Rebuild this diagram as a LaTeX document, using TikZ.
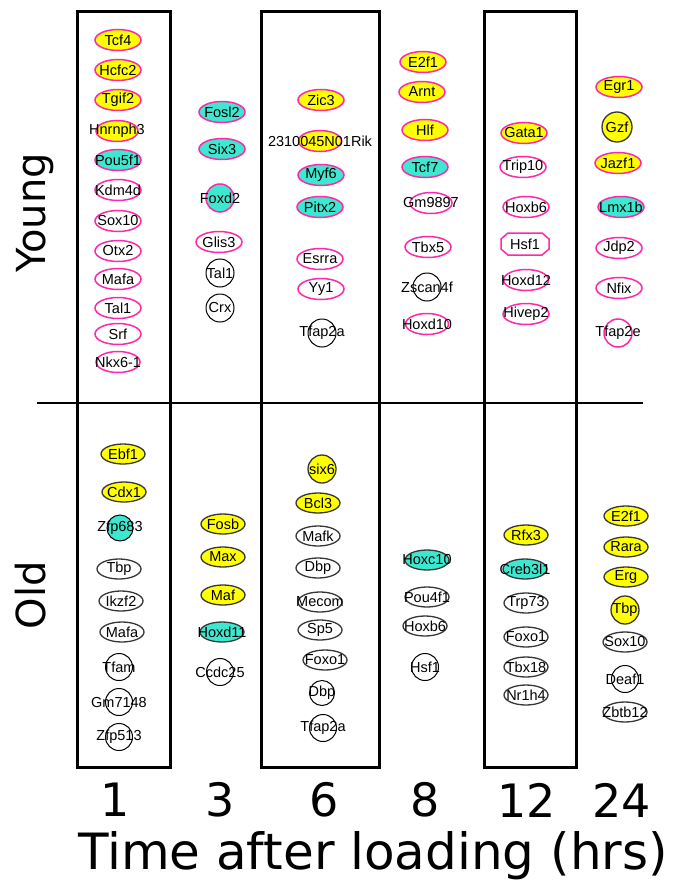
\documentclass[tikz,border=0pt]{standalone}
\usepackage{fontspec}
\setmainfont{Liberation Sans}
\newfontfamily\bigfont{DejaVu Sans}
\usetikzlibrary{shapes.geometric}
\definecolor{pk}{RGB}{255,40,170}
\definecolor{yl}{RGB}{255,255,0}
\definecolor{cy}{RGB}{60,232,208}
\definecolor{gb}{RGB}{55,55,55}
\tikzset{
  base/.style={inner sep=0pt, outer sep=0pt},
  ell/.style={base, ellipse, minimum width=46pt, minimum height=21pt},
  oell/.style={base, ellipse, minimum width=44pt, minimum height=20pt},
  circ/.style={base, circle, minimum size=28pt},
  ocirc/.style={base, circle, minimum size=27pt},
  pkline/.style={draw=pk, line width=1.5pt},
  gbline/.style={draw=gb, line width=1.3pt},
  yp/.style={ell, pkline, fill=yl},
  cp/.style={ell, pkline, fill=cy},
  wp/.style={ell, pkline, fill=white},
  cpc/.style={circ, pkline, fill=cy},
  wpc/.style={circ, pkline, fill=white},
  wbc/.style={circ, draw=black, line width=1pt, fill=white},
  oct/.style={base, rectangle, minimum width=48pt, minimum height=22pt},
  ygc/.style={ocirc, minimum size=30pt, gbline, fill=yl},
  yg/.style={oell, gbline, fill=yl},
  cg/.style={oell, gbline, fill=cy},
  wg/.style={oell, gbline, fill=white},
  wgc/.style={ocirc, draw=black, line width=1pt, fill=white},
  cgc/.style={ocirc, minimum size=26pt, draw=black, line width=1pt, fill=cy},
  lbl/.style={base, font=\fontsize{14.5}{16}\selectfont},
  frame/.style={draw=black, line width=3pt},
  big/.style={font=\bigfont\fontsize{40}{44}\selectfont},
  num/.style={font=\bigfont\fontsize{46}{50}\selectfont},
  axis/.style={font=\bigfont\fontsize{50}{54}\selectfont},
}
\newcommand\tf[5]{\node[#4] (#1) at (#2,#3) {}; \node[lbl] (#1t) at (#1) {#5};}
\begin{document}
\begin{tikzpicture}[x=1pt,y=-1pt]
\useasboundingbox[fill=white] (0,0) rectangle (673,880);
% frames
\draw[frame] (77,12) rectangle (170,767);
\draw[frame] (261,12) rectangle (379,767);
\draw[frame] (484,12) rectangle (576,767);
\draw[line width=1.5pt] (37,403) -- (643,403);
% Young, 1 h
\tf{ya1}{118}{40}{yp}{Tcf4}
\tf{ya2}{118}{70}{yp}{Hcfc2}
\tf{ya3}{118}{100}{yp}{Tgif2}
\tf{ya4}{117}{131}{yp,minimum width=42pt}{Hnrnph3}
\tf{ya5}{118}{160}{cp}{Pou5f1}
\tf{ya6}{118}{190}{wp}{Kdm4d}
\tf{ya7}{118}{221}{wp}{Sox10}
\tf{ya8}{118}{251}{wp}{Otx2}
\tf{ya9}{118}{279}{wp}{Mafa}
\tf{ya10}{118}{308}{wp}{Tal1}
\tf{ya11}{118}{334}{wp}{Srf}
\tf{ya12}{118}{362}{wp,minimum width=44pt}{Nkx6-1}
% Young, 3 h
\tf{yb1}{222}{112}{cp}{Fosl2}
\tf{yb2}{222}{149}{cp}{Six3}
\tf{yb3}{220}{198}{cpc}{Foxd2}
\tf{yb4}{219}{242}{wp}{Glis3}
\tf{yb5}{220}{273}{wbc}{Tal1}
\tf{yb6}{220}{308}{wbc}{Crx}
% Young, 6 h
\tf{yc1}{321}{100}{yp}{Zic3}
\tf{yc2}{320}{141}{yp,minimum width=43pt}{2310045N01Rik}
\tf{yc3}{321}{175}{cp}{Myf6}
\tf{yc4}{320}{207}{cp}{Pitx2}
\tf{yc5}{320}{259}{wp}{Esrra}
\tf{yc6}{321}{289}{wp}{Yy1}
\tf{yc7}{322}{333}{wbc}{Tfap2a}
% Young, 8 h
\tf{yd1}{423}{62}{yp}{E2f1}
\tf{yd2}{422}{92}{yp}{Arnt}
\tf{yd3}{425}{130}{yp}{Hlf}
\tf{yd4}{425}{167}{cp}{Tcf7}
\tf{yd5}{431}{203}{wp,minimum width=42pt}{Gm9897}
\tf{yd6}{428}{247}{wp}{Tbx5}
\tf{yd7}{427}{287}{wbc}{Zscan4f}
\tf{yd8}{427}{324}{wp,minimum width=43pt}{Hoxd10}
% Young, 12 h
\tf{ye1}{524}{133}{yp}{Gata1}
\tf{ye2}{523}{167}{wp}{Trip10}
\tf{ye3}{526}{207}{wp}{Hoxb6}
\node[oct] (ye4) at (525,244) {};
\draw[pkline, fill=white] ([xshift=7pt]ye4.north west) -- ([xshift=-7pt]ye4.north east)
  -- ([yshift=-6pt]ye4.north east) -- ([yshift=6pt]ye4.south east)
  -- ([xshift=-7pt]ye4.south east) -- ([xshift=7pt]ye4.south west)
  -- ([yshift=6pt]ye4.south west) -- ([yshift=-6pt]ye4.north west) -- cycle;
\node[lbl] (ye4t) at (ye4) {Hsf1};
\tf{ye5}{526}{280}{wp,minimum width=45pt}{Hoxd12}
\tf{ye6}{526}{314}{wp}{Hivep2}
% Young, 24 h
\tf{yf1}{619}{87}{yp}{Egr1}
\tf{yf2}{617}{127}{ygc}{Gzf}
\tf{yf3}{618}{163}{yp}{Jazf1}
\tf{yf4}{621}{207}{cp}{Lmx1b}
\tf{yf5}{619}{248}{wp}{Jdp2}
\tf{yf6}{619}{288}{wp}{Nfix}
\tf{yf7}{618}{333}{wpc}{Tfap2e}
% Old, 1 h
\tf{oa1}{123}{454}{yg}{Ebf1}
\tf{oa2}{124}{492}{yg}{Cdx1}
\tf{oa3}{120}{528}{cgc}{Zfp683}
\tf{oa4}{119}{569}{wg}{Tbp}
\tf{oa5}{121}{601}{wg}{Ikzf2}
\tf{oa6}{122}{632}{wg}{Mafa}
\tf{oa7}{119}{667}{wgc}{Tfam}
\tf{oa8}{119}{702}{wgc}{Gm7148}
\tf{oa9}{119}{737}{wgc}{Zfp513}
% Old, 3 h
\tf{ob1}{223}{524}{yg}{Fosb}
\tf{ob2}{223}{557}{yg}{Max}
\tf{ob3}{223}{595}{yg}{Maf}
\tf{ob4}{222}{632}{cg}{Hoxd11}
\tf{ob5}{220}{672}{wgc}{Ccdc25}
% Old, 6 h
\tf{oc1}{322}{469}{ygc,minimum size=28pt}{six6}
\tf{oc2}{318}{503}{yg}{Bcl3}
\tf{oc3}{318}{536}{wg}{Mafk}
\tf{oc4}{318}{568}{wg}{Dbp}
\tf{oc5}{320}{602}{wg}{Mecom}
\tf{oc6}{320}{630}{wg}{Sp5}
\tf{oc7}{325}{660}{wg}{Foxo1}
\tf{oc8}{322}{693}{wgc,minimum size=25pt}{Dbp}
\tf{oc9}{323}{728}{wgc}{Tfap2a}
% Old, 8 h
\tf{od1}{427}{560}{cg}{Hoxc10}
\tf{od2}{427}{597}{wg}{Pou4f1}
\tf{od3}{425}{626}{wg}{Hoxb6}
\tf{od4}{425}{667}{wgc}{Hsf1}
% Old, 12 h
\tf{oe1}{526}{535}{yg}{Rfx3}
\tf{oe2}{525}{569}{cg}{Creb3l1}
\tf{oe3}{526}{603}{wg}{Trp73}
\tf{oe4}{526}{637}{wg}{Foxo1}
\tf{oe5}{526}{667}{wg}{Tbx18}
\tf{oe6}{526}{695}{wg}{Nr1h4}
% Old, 24 h
\tf{of1}{626}{516}{yg}{E2f1}
\tf{of2}{626}{547}{yg}{Rara}
\tf{of3}{626}{577}{yg}{Erg}
\tf{of4}{625}{610}{ygc,minimum size=28pt}{Tbp}
\tf{of5}{625}{642}{wg}{Sox10}
\tf{of6}{625}{679}{wgc}{Deaf1}
\tf{of7}{625}{712}{wg}{Zbtb12}
% side labels
\node[big, rotate=90, anchor=base] (young) at (45,213) {Young};
\node[big, rotate=90, anchor=base] (old) at (45,595) {Old};
% time points
\node[num] (t1) at (115,800) {1};
\node[num] (t3) at (220,800) {3};
\node[num] (t6) at (324,800) {6};
\node[num] (t8) at (425,800) {8};
\node[num] (t12) at (527,800) {12};
\node[num] (t24) at (622,800) {24};
\node[axis, anchor=base] (xlab) at (373,869) {Time after loading (hrs)};
\end{tikzpicture}
\end{document}
